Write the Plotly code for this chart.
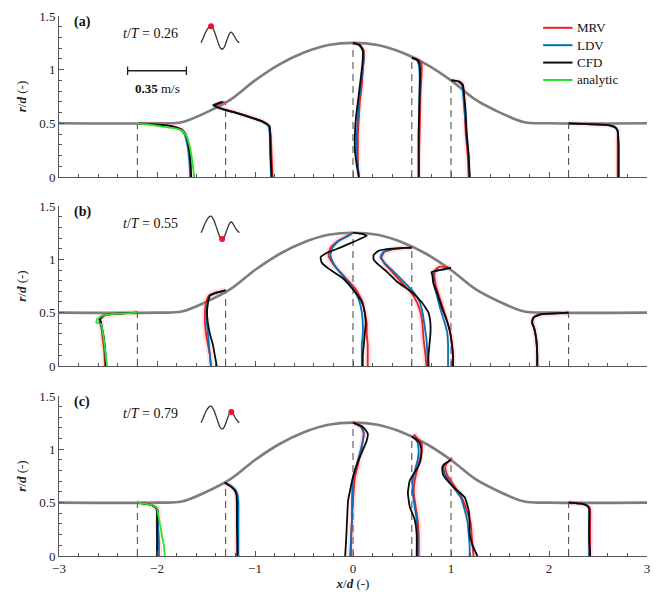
import numpy as np
import plotly.graph_objects as go

FONT = "Liberation Serif, serif"

# ---------------- data ----------------
STATIONS = [-2.2, -1.3, 0.0, 0.6, 1.0, 2.2]
WALL_X = [-3.0, -2.0, -1.75, -1.5, -1.25, -1.0, -0.75, -0.5, -0.25, 0.0,
          0.25, 0.5, 0.75, 1.0, 1.25, 1.5, 1.75, 2.0, 3.0]
WALL_R = [0.5, 0.5, 0.51, 0.60, 0.72, 0.90, 1.05, 1.16, 1.23, 1.25,
          1.23, 1.16, 1.05, 0.90, 0.72, 0.60, 0.51, 0.5, 0.5]

PHASES = ["0.26", "0.55", "0.79"]
PANEL_LABELS = ["(a)", "(b)", "(c)"]
WAVE_T = [0.0, 0.05, 0.12, 0.20, 0.26, 0.33, 0.42, 0.50, 0.55, 0.60, 0.68, 0.75, 0.79, 0.85, 0.92, 1.0]
WAVE_Q = [0.0, 0.04, 0.10, 0.145, 0.155, 0.12, 0.03, -0.045, -0.06, -0.045, 0.03, 0.09, 0.10, 0.075, 0.03, 0.0]

SCALE_VEL = "0.35"   # m/s
SCALE_LEN = 0.6      # in x/d units

# profiles: list of (r, x) per station
# ---- panel (a) ----
MRV_A = [
    ([0.50, 0.49, 0.48, 0.46, 0.44, 0.40, 0.30, 0.15, 0.00], [-2.18, -2.02, -1.88, -1.79, -1.74, -1.71, -1.68, -1.66, -1.66]),
    ([0.70, 0.67, 0.64, 0.60, 0.56, 0.52, 0.49, 0.47, 0.40, 0.20, 0.00], [-1.31, -1.40, -1.34, -1.19, -1.05, -0.93, -0.88, -0.86, -0.84, -0.83, -0.82]),
    ([1.25, 1.23, 1.18, 1.10, 1.00, 0.85, 0.70, 0.55, 0.40, 0.25, 0.10, 0.00], [0.00, 0.07, 0.11, 0.11, 0.10, 0.09, 0.07, 0.06, 0.05, 0.05, 0.05, 0.06]),
    ([1.11, 1.09, 1.05, 0.95, 0.80, 0.60, 0.40, 0.20, 0.00], [0.61, 0.67, 0.70, 0.70, 0.69, 0.685, 0.68, 0.675, 0.675]),
    ([0.90, 0.89, 0.86, 0.80, 0.60, 0.40, 0.20, 0.00], [1.01, 1.09, 1.12, 1.13, 1.14, 1.15, 1.17, 1.18]),
    ([0.50, 0.49, 0.48, 0.46, 0.43, 0.30, 0.15, 0.00], [2.20, 2.46, 2.63, 2.68, 2.70, 2.70, 2.70, 2.70]),
]
LDV_A = [
    ([0.50, 0.49, 0.48, 0.46, 0.44, 0.40, 0.30, 0.15, 0.00], [-2.19, -2.06, -1.91, -1.81, -1.76, -1.72, -1.69, -1.67, -1.66]),
    ([0.70, 0.67, 0.64, 0.60, 0.56, 0.52, 0.49, 0.47, 0.40, 0.20, 0.00], [-1.33, -1.43, -1.37, -1.21, -1.07, -0.94, -0.88, -0.86, -0.85, -0.845, -0.835]),
    ([1.25, 1.23, 1.18, 1.10, 1.00, 0.85, 0.70, 0.55, 0.40, 0.25, 0.10, 0.00], [0.00, 0.06, 0.10, 0.11, 0.10, 0.08, 0.06, 0.05, 0.04, 0.04, 0.05, 0.06]),
    ([1.11, 1.09, 1.05, 0.95, 0.80, 0.60, 0.40, 0.20, 0.00], [0.60, 0.65, 0.67, 0.68, 0.68, 0.675, 0.67, 0.67, 0.67]),
    ([0.90, 0.89, 0.86, 0.80, 0.60, 0.40, 0.20, 0.00], [1.00, 1.07, 1.11, 1.12, 1.14, 1.16, 1.18, 1.19]),
    ([0.50, 0.49, 0.48, 0.46, 0.43, 0.30, 0.15, 0.00], [2.20, 2.44, 2.61, 2.67, 2.70, 2.71, 2.71, 2.71]),
]
CFD_A = [
    ([0.50, 0.49, 0.48, 0.46, 0.44, 0.40, 0.30, 0.15, 0.00], [-2.19, -2.05, -1.90, -1.80, -1.75, -1.71, -1.68, -1.66, -1.65]),
    ([0.70, 0.67, 0.64, 0.60, 0.56, 0.52, 0.49, 0.47, 0.40, 0.20, 0.00], [-1.33, -1.42, -1.36, -1.20, -1.06, -0.93, -0.87, -0.85, -0.845, -0.84, -0.83]),
    ([1.25, 1.23, 1.18, 1.10, 1.00, 0.85, 0.70, 0.55, 0.40, 0.25, 0.10, 0.00], [0.00, 0.07, 0.10, 0.10, 0.09, 0.07, 0.05, 0.03, 0.02, 0.02, 0.04, 0.06]),
    ([1.11, 1.09, 1.05, 0.95, 0.80, 0.60, 0.40, 0.20, 0.00], [0.60, 0.66, 0.68, 0.685, 0.68, 0.675, 0.67, 0.67, 0.67]),
    ([0.90, 0.89, 0.86, 0.80, 0.60, 0.40, 0.20, 0.00], [1.00, 1.08, 1.12, 1.13, 1.15, 1.16, 1.18, 1.19]),
    ([0.50, 0.49, 0.48, 0.46, 0.43, 0.30, 0.15, 0.00], [2.20, 2.45, 2.62, 2.68, 2.70, 2.71, 2.71, 2.71]),
]
ANA_A = [
    ([0.50, 0.49, 0.47, 0.45, 0.43, 0.38, 0.30, 0.15, 0.00], [-2.20, -2.10, -1.95, -1.80, -1.74, -1.70, -1.67, -1.64, -1.62]),
]

# ---- panel (b) ----
MRV_B = [
    ([0.50, 0.49, 0.47, 0.44, 0.40, 0.30, 0.15, 0.00], [-2.20, -2.40, -2.54, -2.58, -2.57, -2.56, -2.54, -2.53]),
    ([0.71, 0.69, 0.66, 0.60, 0.50, 0.40, 0.30, 0.20, 0.10, 0.00], [-1.30, -1.40, -1.47, -1.50, -1.51, -1.51, -1.50, -1.48, -1.46, -1.45]),
    ([1.25, 1.22, 1.17, 1.11, 1.04, 0.98, 0.92, 0.82, 0.73, 0.62, 0.50, 0.40, 0.30, 0.20, 0.10, 0.00], [0.00, -0.06, -0.16, -0.23, -0.25, -0.22, -0.17, -0.07, 0.02, 0.09, 0.12, 0.14, 0.14, 0.15, 0.15, 0.15]),
    ([1.11, 1.10, 1.07, 1.02, 0.96, 0.88, 0.76, 0.68, 0.60, 0.50, 0.38, 0.25, 0.10, 0.00], [0.60, 0.44, 0.32, 0.29, 0.32, 0.40, 0.52, 0.60, 0.65, 0.69, 0.71, 0.72, 0.74, 0.75]),
    ([0.92, 0.93, 0.90, 0.85, 0.78, 0.68, 0.54, 0.42, 0.32, 0.20, 0.10, 0.00], [1.00, 0.88, 0.84, 0.83, 0.84, 0.87, 0.92, 0.96, 0.99, 1.01, 1.02, 1.02]),
    ([0.50, 0.49, 0.48, 0.46, 0.43, 0.40, 0.35, 0.25, 0.10, 0.00], [2.20, 2.00, 1.90, 1.85, 1.83, 1.83, 1.85, 1.87, 1.88, 1.88]),
]
LDV_B = [
    ([0.50, 0.49, 0.47, 0.44, 0.40, 0.30, 0.15, 0.00], [-2.20, -2.43, -2.56, -2.59, -2.58, -2.55, -2.53, -2.52]),
    ([0.71, 0.69, 0.66, 0.60, 0.50, 0.40, 0.30, 0.20, 0.10, 0.00], [-1.30, -1.38, -1.46, -1.48, -1.49, -1.49, -1.48, -1.47, -1.46, -1.45]),
    ([1.25, 1.22, 1.17, 1.11, 1.04, 0.98, 0.92, 0.82, 0.73, 0.62, 0.50, 0.40, 0.30, 0.20, 0.10, 0.00], [0.00, -0.05, -0.15, -0.21, -0.23, -0.21, -0.17, -0.08, 0.00, 0.06, 0.09, 0.10, 0.10, 0.09, 0.09, 0.09]),
    ([1.11, 1.10, 1.07, 1.02, 0.96, 0.88, 0.76, 0.68, 0.60, 0.50, 0.38, 0.25, 0.10, 0.00], [0.60, 0.42, 0.31, 0.28, 0.33, 0.42, 0.55, 0.63, 0.68, 0.71, 0.73, 0.75, 0.76, 0.77]),
    ([0.92, 0.90, 0.88, 0.85, 0.78, 0.68, 0.54, 0.42, 0.32, 0.20, 0.10, 0.00], [1.00, 0.90, 0.82, 0.82, 0.82, 0.85, 0.89, 0.93, 0.96, 0.97, 0.97, 0.97]),
    ([0.50, 0.49, 0.48, 0.46, 0.43, 0.40, 0.35, 0.25, 0.10, 0.00], [2.20, 2.00, 1.90, 1.85, 1.83, 1.83, 1.85, 1.87, 1.88, 1.88]),
]
CFD_B = [
    ([0.50, 0.49, 0.47, 0.44, 0.40, 0.30, 0.15, 0.00], [-2.20, -2.42, -2.55, -2.58, -2.57, -2.55, -2.53, -2.52]),
    ([0.71, 0.69, 0.66, 0.60, 0.50, 0.40, 0.30, 0.20, 0.10, 0.00], [-1.30, -1.38, -1.46, -1.48, -1.49, -1.48, -1.46, -1.43, -1.41, -1.39]),
    ([1.25, 1.24, 1.22, 1.17, 1.11, 1.06, 1.02, 0.97, 0.92, 0.82, 0.74, 0.66, 0.58, 0.50, 0.40, 0.30, 0.20, 0.10, 0.00], [0.00, 0.08, 0.14, 0.02, -0.13, -0.27, -0.33, -0.32, -0.26, -0.10, -0.02, 0.05, 0.10, 0.12, 0.13, 0.12, 0.11, 0.10, 0.10]),
    ([1.11, 1.10, 1.08, 1.04, 1.00, 0.95, 0.88, 0.79, 0.70, 0.60, 0.50, 0.40, 0.30, 0.20, 0.10, 0.00], [0.60, 0.40, 0.26, 0.21, 0.21, 0.26, 0.35, 0.45, 0.59, 0.70, 0.77, 0.79, 0.79, 0.78, 0.77, 0.77]),
    ([0.92, 0.90, 0.88, 0.85, 0.78, 0.68, 0.54, 0.42, 0.32, 0.20, 0.10, 0.00], [1.00, 0.88, 0.80, 0.81, 0.82, 0.86, 0.91, 0.96, 0.99, 1.01, 1.02, 1.02]),
    ([0.50, 0.49, 0.48, 0.46, 0.43, 0.40, 0.35, 0.25, 0.10, 0.00], [2.20, 2.00, 1.90, 1.85, 1.83, 1.83, 1.85, 1.87, 1.88, 1.88]),
]
ANA_B = [
    ([0.50, 0.49, 0.47, 0.44, 0.41, 0.39, 0.30, 0.15, 0.00], [-2.20, -2.40, -2.56, -2.61, -2.62, -2.57, -2.55, -2.53, -2.51]),
]

# ---- panel (c) ----
MRV_C = [
    ([0.50, 0.49, 0.47, 0.45, 0.42, 0.30, 0.15, 0.00], [-2.20, -2.11, -2.03, -2.00, -1.99, -1.99, -1.98, -1.98]),
    ([0.69, 0.66, 0.62, 0.58, 0.50, 0.30, 0.10, 0.00], [-1.31, -1.26, -1.21, -1.19, -1.18, -1.18, -1.18, -1.18]),
    ([1.25, 1.21, 1.15, 1.08, 0.93, 0.74, 0.52, 0.35, 0.15, 0.00], [0.00, 0.08, 0.11, 0.10, 0.07, 0.02, 0.00, -0.01, -0.02, -0.03]),
    ([1.14, 1.09, 1.06, 0.99, 0.90, 0.83, 0.71, 0.59, 0.46, 0.34, 0.20, 0.00], [0.62, 0.67, 0.70, 0.70, 0.68, 0.66, 0.63, 0.62, 0.64, 0.66, 0.67, 0.67]),
    ([0.92, 0.86, 0.83, 0.76, 0.65, 0.55, 0.43, 0.31, 0.21, 0.10, 0.00], [1.01, 0.95, 0.94, 0.96, 1.04, 1.11, 1.16, 1.20, 1.21, 1.22, 1.23]),
    ([0.50, 0.49, 0.47, 0.44, 0.30, 0.15, 0.00], [2.20, 2.34, 2.40, 2.42, 2.42, 2.42, 2.42]),
]
LDV_C = [
    ([0.50, 0.49, 0.47, 0.45, 0.42, 0.30, 0.15, 0.00], [-2.20, -2.12, -2.04, -2.01, -1.99, -1.99, -1.99, -1.99]),
    ([0.69, 0.66, 0.62, 0.58, 0.50, 0.30, 0.10, 0.00], [-1.31, -1.25, -1.20, -1.18, -1.17, -1.17, -1.17, -1.17]),
    ([1.25, 1.21, 1.15, 1.08, 0.93, 0.74, 0.52, 0.35, 0.15, 0.00], [0.00, 0.09, 0.11, 0.10, 0.06, 0.00, -0.01, -0.01, -0.02, -0.02]),
    ([1.12, 1.09, 1.06, 0.99, 0.90, 0.83, 0.71, 0.59, 0.46, 0.34, 0.20, 0.00], [0.60, 0.64, 0.66, 0.67, 0.66, 0.64, 0.61, 0.61, 0.63, 0.65, 0.66, 0.66]),
    ([0.90, 0.86, 0.83, 0.76, 0.65, 0.55, 0.43, 0.31, 0.21, 0.10, 0.00], [1.00, 0.93, 0.92, 0.94, 1.02, 1.10, 1.14, 1.17, 1.18, 1.19, 1.19]),
    ([0.50, 0.49, 0.47, 0.44, 0.30, 0.15, 0.00], [2.20, 2.33, 2.39, 2.41, 2.41, 2.41, 2.41]),
]
CFD_C = [
    ([0.50, 0.49, 0.47, 0.45, 0.42, 0.30, 0.15, 0.00], [-2.20, -2.12, -2.04, -2.01, -2.00, -2.00, -2.00, -2.00]),
    ([0.69, 0.66, 0.62, 0.58, 0.50, 0.30, 0.10, 0.00], [-1.31, -1.26, -1.21, -1.19, -1.185, -1.185, -1.18, -1.18]),
    ([1.25, 1.21, 1.15, 1.08, 0.93, 0.74, 0.52, 0.35, 0.15, 0.00], [0.00, 0.10, 0.15, 0.14, 0.07, 0.00, -0.05, -0.06, -0.07, -0.08]),
    ([1.12, 1.09, 1.06, 0.99, 0.90, 0.83, 0.71, 0.59, 0.46, 0.34, 0.20, 0.00], [0.60, 0.65, 0.68, 0.70, 0.69, 0.66, 0.58, 0.56, 0.58, 0.63, 0.65, 0.65]),
    ([0.90, 0.86, 0.83, 0.76, 0.65, 0.55, 0.43, 0.31, 0.21, 0.10, 0.00], [1.00, 0.93, 0.91, 0.92, 1.02, 1.14, 1.18, 1.19, 1.19, 1.22, 1.27]),
    ([0.50, 0.49, 0.47, 0.44, 0.30, 0.15, 0.00], [2.20, 2.33, 2.39, 2.41, 2.41, 2.41, 2.42]),
]
ANA_C = [
    ([0.50, 0.49, 0.47, 0.45, 0.40, 0.30, 0.20, 0.10, 0.00], [-2.20, -2.12, -2.03, -2.00, -1.99, -1.97, -1.95, -1.93, -1.92]),
]

PANELS = [
    {"MRV": MRV_A, "LDV": LDV_A, "CFD": CFD_A, "analytic": ANA_A},
    {"MRV": MRV_B, "LDV": LDV_B, "CFD": CFD_B, "analytic": ANA_B},
    {"MRV": MRV_C, "LDV": LDV_C, "CFD": CFD_C, "analytic": ANA_C},
]
SERIES = ["MRV", "LDV", "CFD", "analytic"]
COLORS = {"MRV": "rgb(240,30,30)", "LDV": "rgb(0,114,189)", "CFD": "rgb(10,10,10)", "analytic": "rgb(40,230,40)"}
BAND_ALPHA = [0.12, 0.2, 0.2]

# ---------------- figure ----------------
fig = go.Figure()
DOMAINS = [[0.7019, 1.0], [0.3519, 0.6481], [0.0, 0.2963]]
WALL_COLOR = "rgb(125,125,125)"
AX_COLOR = "#555"


def joined(profiles):
    xs, ys = [], []
    for r, x in profiles:
        xs += list(x) + [None]
        ys += list(r) + [None]
    return xs, ys


for i in range(3):
    xa = "x" if i == 0 else f"x{i+1}"
    ya = "y" if i == 0 else f"y{i+1}"

    # dashed station lines
    wall_at = np.interp(STATIONS, WALL_X, WALL_R)
    dx, dy = [], []
    for s, w in zip(STATIONS, wall_at):
        dx += [s, s, None]
        dy += [0, w, None]
    fig.add_trace(go.Scatter(x=dx, y=dy, xaxis=xa, yaxis=ya, mode="lines",
                             line=dict(color="#555", width=1.1, dash="7px,5px"),
                             showlegend=False, hoverinfo="skip"))
    # wall
    fig.add_trace(go.Scatter(x=WALL_X, y=WALL_R, xaxis=xa, yaxis=ya, mode="lines",
                             line=dict(color=WALL_COLOR, width=2.6, shape="spline", smoothing=1.0),
                             showlegend=False, hoverinfo="skip"))
    # MRV uncertainty band
    bx, by = joined(PANELS[i]["MRV"])
    fig.add_trace(go.Scatter(x=bx, y=by, xaxis=xa, yaxis=ya, mode="lines",
                             line=dict(color=f"rgba(255,110,110,{BAND_ALPHA[i]})", width=6,
                                       shape="spline", smoothing=0.4),
                             showlegend=False, hoverinfo="skip"))
    for k, name in enumerate(SERIES):
        px_, py_ = joined(PANELS[i][name])
        fig.add_trace(go.Scatter(x=px_, y=py_, xaxis=xa, yaxis=ya, mode="lines", name=name,
                                 line=dict(color=COLORS[name], width=1.8, shape="spline", smoothing=0.4),
                                 showlegend=False, connectgaps=False))

    # waveform icon
    t_arr = np.array(WAVE_T)
    q_arr = np.array(WAVE_Q)
    ix0, iw, iy0 = -1.55, 0.39, 1.25
    fig.add_trace(go.Scatter(x=ix0 + iw * t_arr, y=iy0 + q_arr, xaxis=xa, yaxis=ya, mode="lines",
                             line=dict(color="#333", width=1.3, shape="spline"),
                             showlegend=False, hoverinfo="skip"))
    tp = float(PHASES[i])
    fig.add_trace(go.Scatter(x=[ix0 + iw * tp], y=[iy0 + np.interp(tp, t_arr, q_arr)], xaxis=xa, yaxis=ya,
                             mode="markers", marker=dict(color="rgb(235,20,40)", size=6),
                             showlegend=False, hoverinfo="skip"))

    fig.add_annotation(x=-2.87, y=1.44, xref=xa, yref=ya, text=f"<b>{PANEL_LABELS[i]}</b>",
                       showarrow=False, xanchor="left", font=dict(family=FONT, size=14, color="#111"))
    fig.add_annotation(x=-2.37, y=1.34, xref=xa, yref=ya,
                       text=f"<i>t</i>/<i>T</i> = {PHASES[i]}",
                       showarrow=False, xanchor="left", font=dict(family=FONT, size=14, color="#111"))

# scale bar in panel (a)
sb_x0, sb_y = -2.30, 0.99
fig.add_trace(go.Scatter(x=[sb_x0, sb_x0 + SCALE_LEN, None, sb_x0, sb_x0, None, sb_x0 + SCALE_LEN, sb_x0 + SCALE_LEN],
                         y=[sb_y, sb_y, None, sb_y - 0.04, sb_y + 0.04, None, sb_y - 0.04, sb_y + 0.04],
                         xaxis="x", yaxis="y", mode="lines", line=dict(color="#222", width=1.3),
                         showlegend=False, hoverinfo="skip"))
fig.add_annotation(x=sb_x0 + SCALE_LEN / 2, y=0.82, xref="x", yref="y", text=f"<b>{SCALE_VEL}</b> m/s",
                   showarrow=False, font=dict(family=FONT, size=13, color="#111"))

# legend (drawn in panel (a) data coordinates)
LEG_X0, LEG_X1, LEG_Y0, LEG_DY = 1.94, 2.24, 1.39, 0.162
for k, name in enumerate(SERIES):
    yk = LEG_Y0 - k * LEG_DY
    fig.add_trace(go.Scatter(x=[LEG_X0, LEG_X1], y=[yk, yk], xaxis="x", yaxis="y", mode="lines",
                             line=dict(color=COLORS[name], width=2), name=name, showlegend=False,
                             hoverinfo="skip"))
    fig.add_annotation(x=LEG_X1 + 0.03, y=yk, xref="x", yref="y", text=name, showarrow=False,
                       xanchor="left", yanchor="middle", font=dict(family=FONT, size=13, color="#111"))

for i in range(3):
    xname = "xaxis" if i == 0 else f"xaxis{i+1}"
    yname = "yaxis" if i == 0 else f"yaxis{i+1}"
    ya = "y" if i == 0 else f"y{i+1}"
    xa = "x" if i == 0 else f"x{i+1}"
    fig.layout[xname] = dict(
        domain=[0, 1], anchor=ya, range=[-3, 3], showline=True, linecolor=AX_COLOR, linewidth=1,
        ticks="inside", ticklen=5, tickcolor=AX_COLOR, tickwidth=1, tick0=0, dtick=1,
        minor=dict(dtick=0.2, ticks="inside", ticklen=3, tickcolor=AX_COLOR, tickwidth=1),
        showgrid=False, zeroline=False, showticklabels=(i == 2),
        tickfont=dict(family=FONT, size=13, color="#222"),
        title=dict(text="<b><i>x</i></b>/<b><i>d</i></b> (-)" if i == 2 else "",
                   font=dict(family=FONT, size=13, color="#222"), standoff=2),
    )
    fig.layout[yname] = dict(
        domain=DOMAINS[i], anchor=xa, range=[0, 1.5], showline=True, linecolor=AX_COLOR, linewidth=1,
        ticks="inside", ticklen=5, tickcolor=AX_COLOR, tickwidth=1,
        tickvals=[0, 0.5, 1, 1.5], ticktext=["0", "0.5", "1", "1.5"],
        minor=dict(dtick=0.1, ticks="inside", ticklen=3, tickcolor=AX_COLOR, tickwidth=1),
        showgrid=False, zeroline=False,
        tickfont=dict(family=FONT, size=13, color="#222"),
        title=dict(text="<b><i>r</i></b>/<b><i>d</i></b> (-)", font=dict(family=FONT, size=13, color="#222"),
                   standoff=9),
    )

fig.update_layout(
    width=657, height=596, template="none",
    margin=dict(l=59, r=10, t=16, b=40),
    paper_bgcolor="white", plot_bgcolor="white",
    showlegend=False,
)

fig.write_html("out.html")
